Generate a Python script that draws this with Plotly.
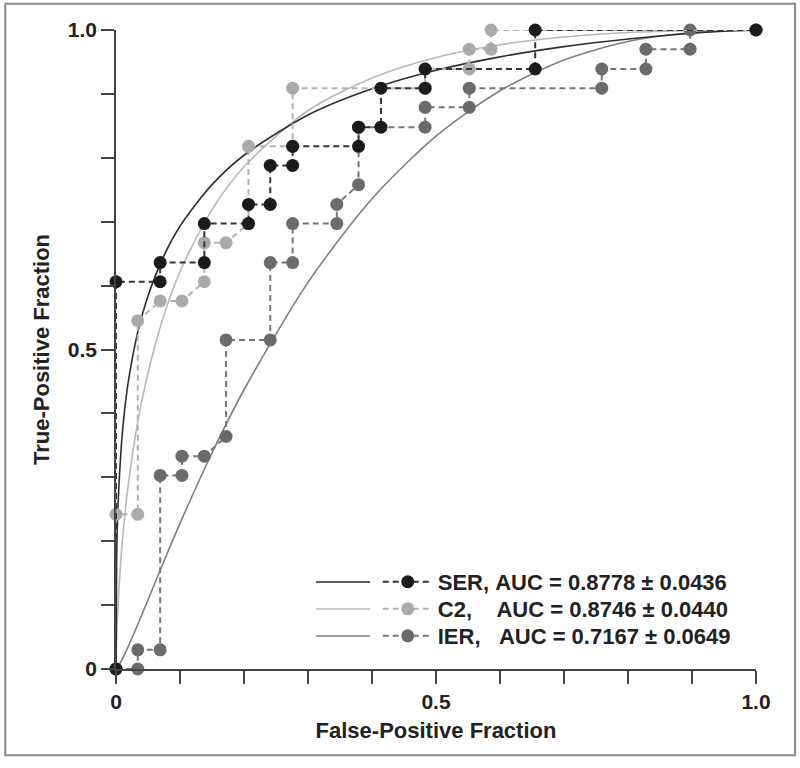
import plotly.graph_objects as go

# ---------------- data ----------------
ser_fpf = [0, 0, 0.069, 0.069, 0.138, 0.138, 0.207, 0.207, 0.241, 0.241, 0.276, 0.276,
           0.379, 0.379, 0.414, 0.414, 0.483, 0.483, 0.655, 0.655, 1.0]
ser_tpf = [0, 0.606, 0.606, 0.636, 0.636, 0.697, 0.697, 0.727, 0.727, 0.788, 0.788, 0.818,
           0.818, 0.848, 0.848, 0.909, 0.909, 0.939, 0.939, 1.0, 1.0]

c2_fpf = [0, 0, 0.034, 0.034, 0.069, 0.103, 0.138, 0.138, 0.172, 0.207, 0.207, 0.276,
          0.276, 0.483, 0.483, 0.552, 0.552, 0.586, 0.586, 1.0]
c2_tpf = [0, 0.242, 0.242, 0.545, 0.576, 0.576, 0.606, 0.667, 0.667, 0.697, 0.818, 0.818,
          0.909, 0.909, 0.939, 0.939, 0.970, 0.970, 1.0, 1.0]

ier_fpf = [0, 0.034, 0.034, 0.069, 0.069, 0.103, 0.103, 0.138, 0.172, 0.172, 0.241, 0.241,
           0.276, 0.276, 0.345, 0.345, 0.379, 0.379, 0.483, 0.483, 0.552, 0.552, 0.759,
           0.759, 0.828, 0.828, 0.897, 0.897, 1.0]
ier_tpf = [0, 0, 0.030, 0.030, 0.303, 0.303, 0.333, 0.333, 0.364, 0.515, 0.515, 0.636,
           0.636, 0.697, 0.697, 0.727, 0.758, 0.848, 0.848, 0.879, 0.879, 0.909, 0.909,
           0.939, 0.939, 0.970, 0.970, 1.0, 1.0]

# fitted (smooth) ROC curves
fit_fpf = [0, 0.001, 0.003, 0.01, 0.02, 0.04, 0.07, 0.1, 0.15, 0.2, 0.3, 0.4, 0.5,
           0.6, 0.7, 0.8, 0.9, 0.95, 1.0]
ser_fit = [0, 0.173, 0.252, 0.370, 0.455, 0.551, 0.636, 0.693, 0.758, 0.804, 0.867,
           0.908, 0.937, 0.958, 0.974, 0.986, 0.995, 0.998, 1.0]
c2_fit = [0, 0.047, 0.096, 0.201, 0.295, 0.418, 0.538, 0.622, 0.719, 0.786, 0.874,
          0.925, 0.957, 0.977, 0.989, 0.996, 0.999, 1.0, 1.0]
ier_fit = [0, 0.001, 0.003, 0.016, 0.037, 0.084, 0.157, 0.228, 0.338, 0.437, 0.605,
           0.736, 0.834, 0.905, 0.953, 0.982, 0.996, 0.999, 1.0]

legend_names = ["SER,\u00a0AUC = 0.8778 \u00b1 0.0436",
                "C2,\u00a0\u00a0\u00a0\u00a0AUC = 0.8746 \u00b1 0.0440",
                "IER,\u00a0\u00a0\u00a0AUC = 0.7167 \u00b1 0.0649"]

tick_vals = [0, 0.1, 0.2, 0.3, 0.4, 0.5, 0.6, 0.7, 0.8, 0.9, 1.0]
tick_text = ["0", "", "", "", "", "0.5", "", "", "", "", "1.0"]

# ---------------- styling ----------------
FONT = "Liberation Sans, Arial, Helvetica, sans-serif"
TXT = "#222222"
ser_col, c2_col, ier_col = "#1b1b1b", "#aaaaaa", "#6b6b6b"
ser_fitcol, c2_fitcol, ier_fitcol = "#2e2e2e", "#b8b8b8", "#7f7f7f"
DASH = "6px,4px"
ROW_Y = [0.1362, 0.0939, 0.0516]   # legend row centres (paper units)

fig = go.Figure()

# fitted curves (below)
for xs, ys, col in [(fit_fpf, ier_fit, ier_fitcol), (fit_fpf, c2_fit, c2_fitcol),
                    (fit_fpf, ser_fit, ser_fitcol)]:
    fig.add_trace(go.Scatter(x=xs, y=ys, mode="lines", showlegend=False,
                             line=dict(color=col, width=1.6, shape="spline", smoothing=0.8),
                             hoverinfo="skip"))

# empirical step curves (each in its own legend row)
steps = [(ier_fpf, ier_tpf, ier_col, "#777777", legend_names[2], "legend3"),
         (c2_fpf, c2_tpf, c2_col, "#b3b3b3", legend_names[1], "legend2"),
         (ser_fpf, ser_tpf, ser_col, "#333333", legend_names[0], "legend")]
for xs, ys, mcol, lcol, name, leg in steps:
    fig.add_trace(go.Scatter(x=xs, y=ys, mode="lines+markers", name=name,
                             legend=leg, cliponaxis=False,
                             line=dict(color=lcol, width=2, dash=DASH),
                             marker=dict(color=mcol, size=13, line=dict(width=0))))

# solid line samples in front of the legend entries + frame
shapes = [dict(type="rect", xref="paper", yref="paper", x0=-0.173, x1=1.061,
               y0=-0.135, y1=1.041, line=dict(color="#8a8a8a", width=2), layer="below")]
for yy, col in zip(ROW_Y, [ser_fitcol, c2_fitcol, ier_fitcol]):
    shapes.append(dict(type="line", xref="paper", yref="paper", x0=0.3125, x1=0.397,
                       y0=yy, y1=yy, line=dict(color=col, width=1.6)))

axis_common = dict(range=[0, 1], tickvals=tick_vals, ticktext=tick_text, ticks="outside",
                   ticklen=13, tickwidth=1.5, tickcolor="#444444", showline=True,
                   linecolor="#444444", linewidth=1.5, showgrid=False, zeroline=False,
                   tickfont=dict(family=FONT, size=21, color=TXT, weight="bold"),
                   fixedrange=True)

fig.update_xaxes(**axis_common,
                 title=dict(text="False-Positive Fraction", standoff=11,
                            font=dict(family=FONT, size=22, color=TXT, weight="bold")))
fig.update_yaxes(**axis_common,
                 title=dict(text="True-Positive Fraction", standoff=12,
                            font=dict(family=FONT, size=22, color=TXT, weight="bold")))

def leg(y):
    return dict(x=0.409, y=y, xanchor="left", yanchor="middle",
                bgcolor="rgba(0,0,0,0)", borderwidth=0,
                font=dict(family=FONT, size=22, color=TXT, weight="bold"),
                itemwidth=50)

fig.update_layout(
    width=800, height=768,
    margin=dict(l=116, r=44, t=30, b=99, autoexpand=False),
    plot_bgcolor="white", paper_bgcolor="white",
    shapes=shapes,
    legend=leg(ROW_Y[0]), legend2=leg(ROW_Y[1]), legend3=leg(ROW_Y[2]),
    showlegend=True,
)

fig.write_html("out.html", config={"displayModeBar": False},
               post_script="document.body.style.margin='0px';")
